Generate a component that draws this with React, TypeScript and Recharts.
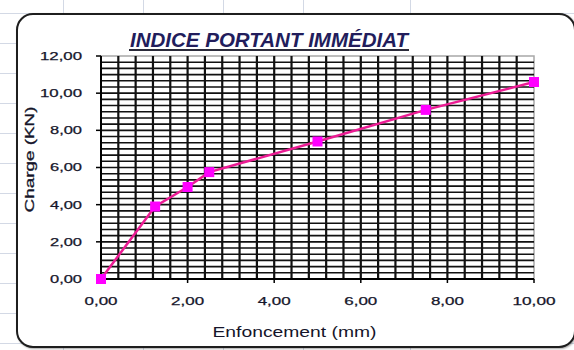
import React from "react";
import { LineChart, Line, XAxis, YAxis, ReferenceArea, ReferenceLine, Label } from "recharts";

// Enfoncement (mm) / Charge (kN)
const penetration = [0, 1.25, 2, 2.5, 5, 7.5, 10];
const load = [0, 3.9, 4.95, 5.75, 7.4, 9.1, 10.6];

const xTicks = [0, 2, 4, 6, 8, 10];
const yTicks = [0, 2, 4, 6, 8, 10, 12];
const xMinor = [
  0.4, 0.8, 1.2, 1.6, 2, 2.4, 2.8, 3.2, 3.6, 4, 4.4, 4.8, 5.2, 5.6, 6, 6.4, 6.8, 7.2, 7.6, 8, 8.4,
  8.8, 9.2, 9.6,
];
const yMinor = [
  0.333, 0.667, 1, 1.333, 1.667, 2, 2.333, 2.667, 3, 3.333, 3.667, 4, 4.333, 4.667, 5, 5.333, 5.667,
  6, 6.333, 6.667, 7, 7.333, 7.667, 8, 8.333, 8.667, 9, 9.333, 9.667, 10, 10.333, 10.667, 11, 11.333,
  11.667,
];

// spreadsheet cell lines behind the chart object
const sheetRows = [13, 43, 73, 103, 133, 163, 193, 223, 253, 283, 313, 343];
const sheetCols = [63, 143, 223, 303, 410];

const data = penetration.map((p, i) => ({ penetration: p, load: load[i] }));

const FONT = '"Liberation Sans", Arial, sans-serif';
const INK = "#15152a";
const fmt = (v: number) => v.toFixed(2).replace(".", ",");

function XTick({ x, y, payload }: any) {
  const s = fmt(payload.value);
  return (
    <text
      x={x}
      y={y}
      dy="0.71em"
      textAnchor="middle"
      fontSize={11}
      fontFamily={FONT}
      fill={INK}
      stroke={INK}
      strokeWidth={0.25}
      textLength={s.length > 4 ? 43 : 33}
      lengthAdjust="spacingAndGlyphs"
    >
      {s}
    </text>
  );
}

function YTick({ x, y, payload }: any) {
  const s = fmt(payload.value);
  return (
    <text
      x={x}
      y={y}
      dy="0.355em"
      textAnchor="end"
      fontSize={11}
      fontFamily={FONT}
      fill={INK}
      stroke={INK}
      strokeWidth={0.25}
      textLength={s.length > 4 ? 42 : 32}
      lengthAdjust="spacingAndGlyphs"
    >
      {s}
    </text>
  );
}

function SquareDot({ cx, cy, index }: any) {
  return <rect key={index} x={cx - 5} y={cy - 5} width={10} height={10} fill="#ff00ff" />;
}

export default function App() {
  return (
    <div
      style={{
        position: "fixed",
        left: 0,
        top: 0,
        width: 574,
        height: 350,
        background: "#fff",
        overflow: "hidden",
      }}
    >
      <svg width={574} height={350} style={{ position: "absolute", left: 0, top: 0 }}>
        {sheetRows.map((r) => (
          <line key={"r" + r} x1={0} x2={574} y1={r + 0.5} y2={r + 0.5} stroke="#d3d9e5" />
        ))}
        {sheetCols.map((c) => (
          <line key={"c" + c} x1={c + 0.5} x2={c + 0.5} y1={0} y2={350} stroke="#d3d9e5" />
        ))}
      </svg>

      <div
        style={{
          position: "absolute",
          left: 16,
          top: 13,
          width: 560,
          height: 335,
          boxSizing: "border-box",
          border: "2px solid #1e1e1e",
          borderRadius: 17,
          background: "#fff",
          boxShadow: "1px 1px 2px rgba(0,0,0,0.35)",
        }}
      />

      <svg width={574} height={350} style={{ position: "absolute", left: 0, top: 0 }}>
        <text
          x={269}
          y={46.5}
          textAnchor="middle"
          fontSize={20}
          fontWeight="bold"
          fontStyle="italic"
          fontFamily={FONT}
          fill="#221d5c"
          textLength={278}
          lengthAdjust="spacingAndGlyphs"
        >
          INDICE PORTANT IMMÉDIAT
        </text>
        <line x1={129} x2={409} y1={50} y2={50} stroke="#2b2b3a" strokeWidth={2} />
      </svg>

      <div style={{ position: "absolute", left: 0, top: 0 }}>
        <LineChart
          width={574}
          height={350}
          data={data}
          margin={{ top: 56, right: 40, bottom: 41, left: 41 }}
        >
          <ReferenceArea
            x1={0}
            x2={10}
            y1={0}
            y2={12}
            fill="#fff"
            fillOpacity={0}
            stroke="#a8a8a8"
            strokeWidth={1.5}
          />
          {yMinor.map((v) => (
            <ReferenceLine key={"h" + v} y={v} stroke="#111" strokeWidth={1.6} />
          ))}
          {xMinor.map((v) => (
            <ReferenceLine key={"v" + v} x={v} stroke="#111" strokeWidth={2.2} />
          ))}
          <XAxis
            type="number"
            dataKey="penetration"
            domain={[0, 10]}
            ticks={xTicks}
            height={30}
            tickSize={4}
            tickMargin={14}
            tick={<XTick />}
            axisLine={{ stroke: "#000", strokeWidth: 2 }}
            tickLine={{ stroke: "#000", strokeWidth: 1.5 }}
          >
            <Label
              content={({ viewBox }: any) => (
                <text
                  x={viewBox.x + viewBox.width / 2 - 23}
                  y={viewBox.y + 57.5}
                  textAnchor="middle"
                  fontSize={14}
                  fontFamily={FONT}
                  fill={INK}
                  textLength={164}
                  lengthAdjust="spacingAndGlyphs"
                >
                  Enfoncement  (mm)
                </text>
              )}
            />
          </XAxis>
          <YAxis
            type="number"
            domain={[0, 12]}
            ticks={yTicks}
            width={60}
            tickSize={5}
            tickMargin={14}
            tick={<YTick />}
            axisLine={{ stroke: "#000", strokeWidth: 2 }}
            tickLine={{ stroke: "#000", strokeWidth: 1.5 }}
          >
            <Label
              content={({ viewBox }: any) => {
                const bx = viewBox.x - 7;
                const cy = viewBox.y + viewBox.height / 2 - 8;
                return (
                  <text
                    x={bx}
                    y={cy}
                    transform={`rotate(-90, ${bx}, ${cy})`}
                    textAnchor="middle"
                    fontSize={13}
                    fontFamily={FONT}
                    fill={INK}
                    stroke={INK}
                    strokeWidth={0.3}
                    textLength={106}
                    lengthAdjust="spacingAndGlyphs"
                  >
                    Charge  (KN)
                  </text>
                );
              }}
            />
          </YAxis>
          <Line
            type="linear"
            dataKey="load"
            stroke="#ec1c94"
            strokeWidth={2.5}
            dot={<SquareDot />}
            activeDot={false}
            isAnimationActive={false}
          />
        </LineChart>
      </div>
    </div>
  );
}
